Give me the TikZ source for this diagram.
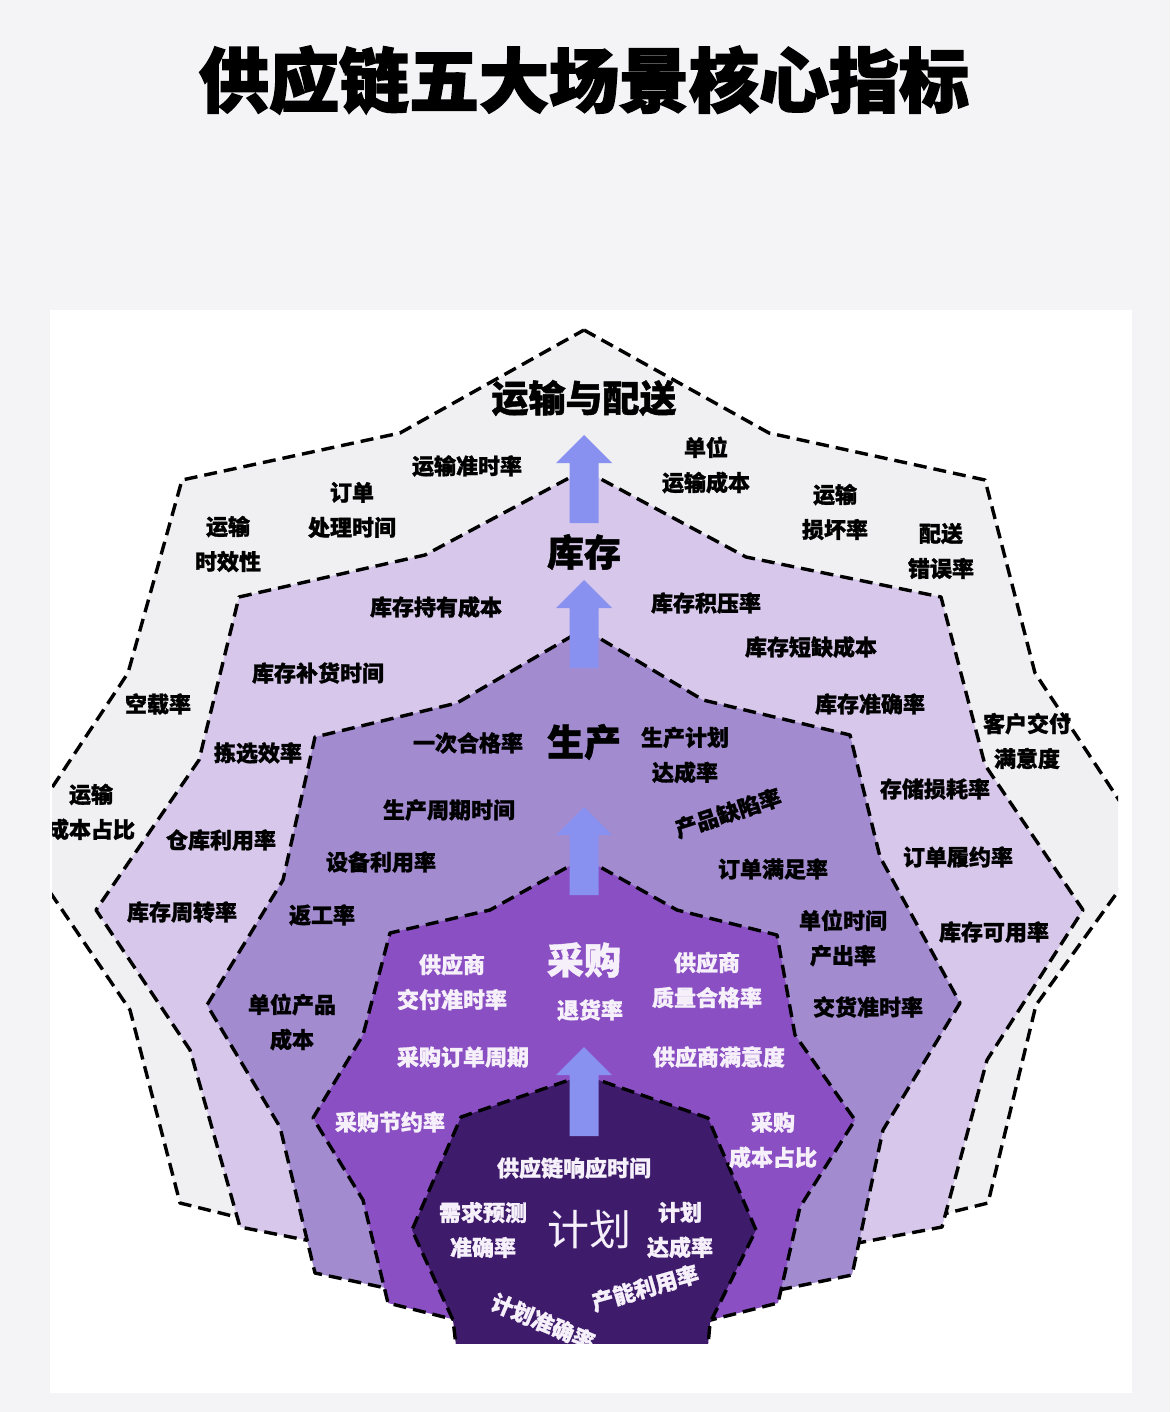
\documentclass[tikz,border=0pt]{standalone}
\usepackage{fontspec}
\newfontfamily\cjk{Noto Sans CJK SC}[BoldFeatures={FakeBold=1.2}]
\newfontfamily\cjktitle{Noto Sans CJK SC}[BoldFeatures={FakeBold=2.4}]
\usetikzlibrary{positioning}

\definecolor{pagebg}{HTML}{F4F4F6}
\definecolor{laytrans}{HTML}{F0F0F2}
\definecolor{laystock}{HTML}{D7C8EB}
\definecolor{layprod}{HTML}{A28BCF}
\definecolor{laybuy}{HTML}{8A4FC2}
\definecolor{layplan}{HTML}{3F1B6B}
\definecolor{flowblue}{HTML}{8890F0}
\definecolor{paletext}{HTML}{F6F0FA}

\tikzset{
  layer/.style={draw=black, line width=3.4pt, dash pattern=on 13pt off 7pt, line join=round},
  flow/.style={fill=flowblue},
  headline/.style={font=\cjktitle\bfseries\fontsize{70}{70}\selectfont, inner sep=0pt},
  stage/.style={font=\cjk\bfseries\fontsize{37}{40}\selectfont, inner sep=0pt},
  metric/.style={font=\cjk\bfseries\fontsize{22}{35}\selectfont, align=center, inner sep=0pt},
  lightmetric/.style={metric, text=paletext},
}

\begin{document}
\begin{tikzpicture}[x=1pt,y=-1pt]
  \useasboundingbox (0,0) rectangle (1170,1412);
  \fill[pagebg] (0,0) rectangle (1170,1412);
  \fill[white] (50,310) rectangle (1132,1393);

  \node[headline] (title) at (584,80) {供应链五大场景核心指标};

  \begin{scope}
    \clip (52,312) rectangle (1118,1343);

    % transport and delivery
    \filldraw[layer, fill=laytrans] (584,330) -- (769,433) -- (985,480) -- (1035,673)
      -- (1150,847) -- (1036,1005) -- (988,1203) -- (584,1303) -- (180,1203)
      -- (130,1010) -- (16,842) -- (128,673) -- (182,480) -- (400,433) -- cycle;
    % inventory
    \filldraw[layer, fill=laystock] (584,470) -- (746,557) -- (941,597) -- (985,765)
      -- (1083,910) -- (987,1060) -- (942,1227) -- (584,1295) -- (240,1227)
      -- (190,1050) -- (96,910) -- (199,760) -- (239,597) -- (425,555) -- cycle;
    % production
    \filldraw[layer, fill=layprod] (584,629) -- (703,700) -- (850,735) -- (880,857)
      -- (960,1003) -- (883,1130) -- (852,1275) -- (584,1330) -- (315,1273)
      -- (280,1127) -- (207,1005) -- (283,880) -- (315,737) -- (457,703) -- cycle;
    % procurement
    \filldraw[layer, fill=laybuy] (584,858) -- (677,910) -- (777,935) -- (795,1035)
      -- (855,1120) -- (800,1207) -- (778,1303) -- (584,1352) -- (388,1303)
      -- (363,1200) -- (313,1118) -- (363,1035) -- (390,933) -- (490,910) -- cycle;
    % planning
    \filldraw[layer, fill=layplan] (584,1075) -- (708,1118) -- (756,1230) -- (710,1323)
      -- (705,1380) -- (460,1380) -- (453,1320) -- (412,1230) -- (461,1117) -- cycle;

    % transport metrics
    \node[metric] (t1) at (467,466) {运输准时率};
    \node[metric] (t2) at (352,510) {订单\\处理时间};
    \node[metric] (t3) at (228,544) {运输\\时效性};
    \node[metric] (t4) at (706,465) {单位\\运输成本};
    \node[metric] (t5) at (835,512) {运输\\损坏率};
    \node[metric] (t6) at (941,551) {配送\\错误率};
    \node[metric] (t7) at (158,704) {空载率};
    \node[metric] (t8) at (91,812) {运输\\成本占比};
    \node[metric] (t9) at (1027,741) {客户交付\\满意度};

    % inventory metrics
    \node[metric] (s1) at (436,607) {库存持有成本};
    \node[metric] (s2) at (318,673) {库存补货时间};
    \node[metric] (s3) at (258,753) {拣选效率};
    \node[metric] (s4) at (221,840) {仓库利用率};
    \node[metric] (s5) at (182,912) {库存周转率};
    \node[metric] (s6) at (706,603) {库存积压率};
    \node[metric] (s7) at (811,647) {库存短缺成本};
    \node[metric] (s8) at (870,704) {库存准确率};
    \node[metric] (s9) at (935,789) {存储损耗率};
    \node[metric] (s10) at (958,857) {订单履约率};
    \node[metric] (s11) at (994,932) {库存可用率};

    % production metrics
    \node[metric] (p1) at (468,743) {一次合格率};
    \node[metric] (p2) at (685,755) {生产计划\\达成率};
    \node[metric] (p3) at (449,810) {生产周期时间};
    \node[metric, rotate=18] (p4) at (728,813) {产品缺陷率};
    \node[metric] (p5) at (381,862) {设备利用率};
    \node[metric] (p6) at (773,869) {订单满足率};
    \node[metric] (p7) at (322,915) {返工率};
    \node[metric] (p8) at (843,938) {单位时间\\产出率};
    \node[metric] (p9) at (292,1022) {单位产品\\成本};
    \node[metric] (p10) at (868,1007) {交货准时率};

    % procurement metrics
    \node[lightmetric] (c1) at (452,982) {供应商\\交付准时率};
    \node[lightmetric] (c2) at (590,1010) {退货率};
    \node[lightmetric] (c3) at (707,980) {供应商\\质量合格率};
    \node[lightmetric] (c4) at (463,1057) {采购订单周期};
    \node[lightmetric] (c5) at (719,1057) {供应商满意度};
    \node[lightmetric] (c6) at (390,1122) {采购节约率};
    \node[lightmetric] (c7) at (773,1140) {采购\\成本占比};

    % planning metrics
    \node[lightmetric] (j1) at (574,1168) {供应链响应时间};
    \node[lightmetric] (j2) at (483,1230) {需求预测\\准确率};
    \node[lightmetric] (j3) at (680,1230) {计划\\达成率};
    \node[lightmetric, rotate=16] (j4) at (645,1288) {产能利用率};
    \node[lightmetric, rotate=-23] (j5) at (543,1322) {计划准确率};
  \end{scope}

  % flow arrows
  \foreach \tip/\bot in {435/523, 580/668, 807/895, 1047/1136}
    \fill[flow] (584,\tip) -- (612,\tip+28) -- (598.5,\tip+28) -- (598.5,\bot)
      -- (569.5,\bot) -- (569.5,\tip+28) -- (556,\tip+28) -- cycle;

  % stage names
  \node[stage] (stTrans) at (584,398) {运输与配送};
  \node[stage] (stStock) at (584,552) {库存};
  \node[stage] (stProd) at (584,742) {生产};
  \node[stage, text=paletext] (stBuy) at (584,960) {采购};
  \node[font=\cjk\fontsize{42}{42}\selectfont, inner sep=0pt, text=paletext] (stPlan) at (589,1230) {计划};
\end{tikzpicture}
\end{document}
